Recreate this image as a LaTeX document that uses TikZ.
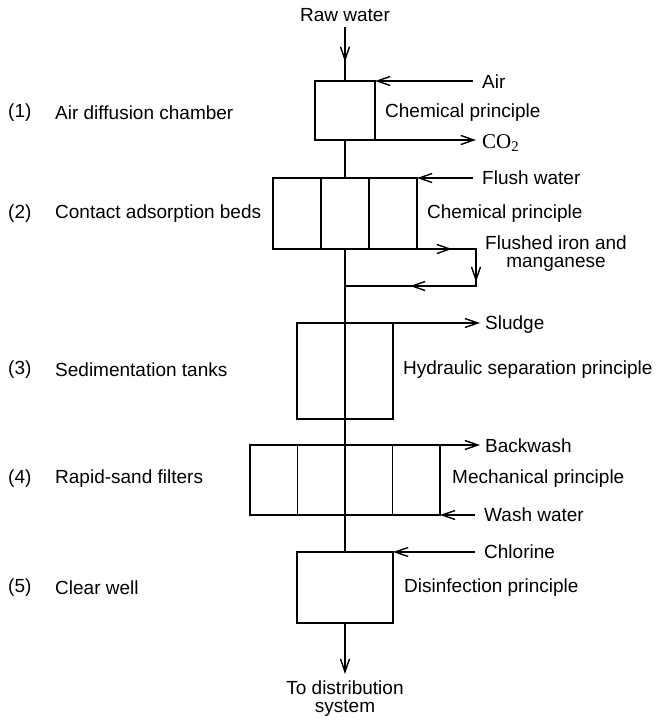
\documentclass[tikz,border=0pt]{standalone}
\usepackage{fontspec}
\setmainfont{Liberation Sans}
\newfontfamily\gasfont{Liberation Serif}
\usetikzlibrary{calc,arrows.meta,decorations.markings,positioning}

\tikzset{
  tank/.style={draw,line width=1.6pt,inner sep=0pt,outer sep=0pt},
  pipe/.style={line width=2.8pt},
  barb/.tip={Straight Barb[length=13pt,width=9pt,line width=1.4pt]},
  feed/.style={line width=1.7pt,-barb},
  lbl/.style={font=\fontsize{19}{18}\selectfont,inner sep=0pt},
  midtip/.style={postaction={decorate},decoration={markings,mark=at position #1 with {\arrow{barb}}}}
}

\begin{document}
\begin{tikzpicture}[x=1pt,y=-1pt]
\useasboundingbox (0,0) rectangle (657,720);

% Units and their flow line
\node[lbl] (raw) at (345,15) {Raw water};
\node[tank,minimum width=60pt,minimum height=59pt] (b1) at (345,110.5) {};
\node[tank,minimum width=144pt,minimum height=71pt] (b2) at (345,213.5) {};
\node[tank,minimum width=96pt,minimum height=96pt] (b3) at (345,371) {};
\node[tank,minimum width=190pt,minimum height=70pt] (b4) at (345,480) {};
\node[tank,minimum width=96pt,minimum height=71pt] (b5) at (345,587.5) {};
\node[lbl,anchor=north,align=center] (out) at (345,681) {To distribution\\system};

% Bed and filter partitions
\foreach \f in {1,2}
  \draw[line width=1.6pt] ($(b2.north west)!\f/3!(b2.north east)$) -- ($(b2.south west)!\f/3!(b2.south east)$);
\foreach \f in {1,3}
  \draw[line width=1.6pt] ($(b4.north west)!\f/4!(b4.north east)$) -- ($(b4.south west)!\f/4!(b4.south east)$);

\draw[pipe,midtip=35pt] ([yshift=-5pt]raw.south) -- (b1.north);
\draw[pipe] (b1.south) -- (b2.north);
\draw[pipe] (b2.south) -- (b5.north);
\draw[pipe,-barb] (b5.south) -- ([yshift=7pt]out.north);

% Stage names
\foreach \i/\y/\t in {1/113/Air diffusion chamber,2/214/Contact adsorption beds,3/370/Sedimentation tanks,4/479/Rapid-sand filters,5/588/Clear well}{
  \node[lbl,anchor=west] (num\i) at (8,\y) {(\i)};
  \node[lbl,anchor=west] (name\i) at (55,\y) {\t};
}

% Principles
\node[lbl,anchor=west] (p1) at (385,113) {Chemical principle};
\node[lbl,anchor=west] (p2) at (427,214) {Chemical principle};
\node[lbl,anchor=west] (p3) at (403,370) {Hydraulic separation principle};
\node[lbl,anchor=west] (p4) at (452,479) {Mechanical principle};
\node[lbl,anchor=west] (p5) at (404,588) {Disinfection principle};

% Side streams
\node[lbl,anchor=west] (air) at (482,82) {Air};
\node[lbl,anchor=west] (co2) at (482,143) {\gasfont\fontsize{21}{18}\selectfont CO\textsubscript{2}};
\node[lbl,anchor=west] (flush) at (482,178) {Flush water};
\node[lbl,align=center] (iron) at (556,254) {Flushed iron and\\manganese};
\node[lbl,anchor=west] (sludge) at (485,325) {Sludge};
\node[lbl,anchor=west] (backwash) at (485,446) {Backwash};
\node[lbl,anchor=west] (wash) at (484,515) {Wash water};
\node[lbl,anchor=west] (chlor) at (484,552) {Chlorine};

\draw[feed,shorten <=9pt] (air.west |- b1.north east) -- (b1.north east);
\draw[feed,shorten >=6pt] (b1.south east) -- (co2.west |- b1.south east);
\draw[feed,shorten <=9pt] (flush.west |- b2.north east) -- (b2.north east);
\coordinate (fl1) at ($(b2.south east)+(59,0)$);
\coordinate (fl2) at ($(fl1)+(0,37)$);
\draw[line width=1.7pt,postaction={decorate},decoration={markings,
    mark=at position 35pt with {\arrow{barb}},
    mark=at position 92pt with {\arrow{barb}},
    mark=at position 162pt with {\arrow{barb}}}]
  (b2.south east) -- (fl1) -- (fl2) -- (fl2 -| b2.south);
\draw[feed,shorten >=5pt] (b3.north east) -- (sludge.west |- b3.north east);
\draw[feed,shorten >=5pt] (b4.north east) -- (backwash.west |- b4.north east);
\draw[feed,shorten <=9pt] (wash.west |- b4.south east) -- (b4.south east);
\draw[feed,shorten <=9pt] (chlor.west |- b5.north east) -- (b5.north east);

\end{tikzpicture}
\end{document}
